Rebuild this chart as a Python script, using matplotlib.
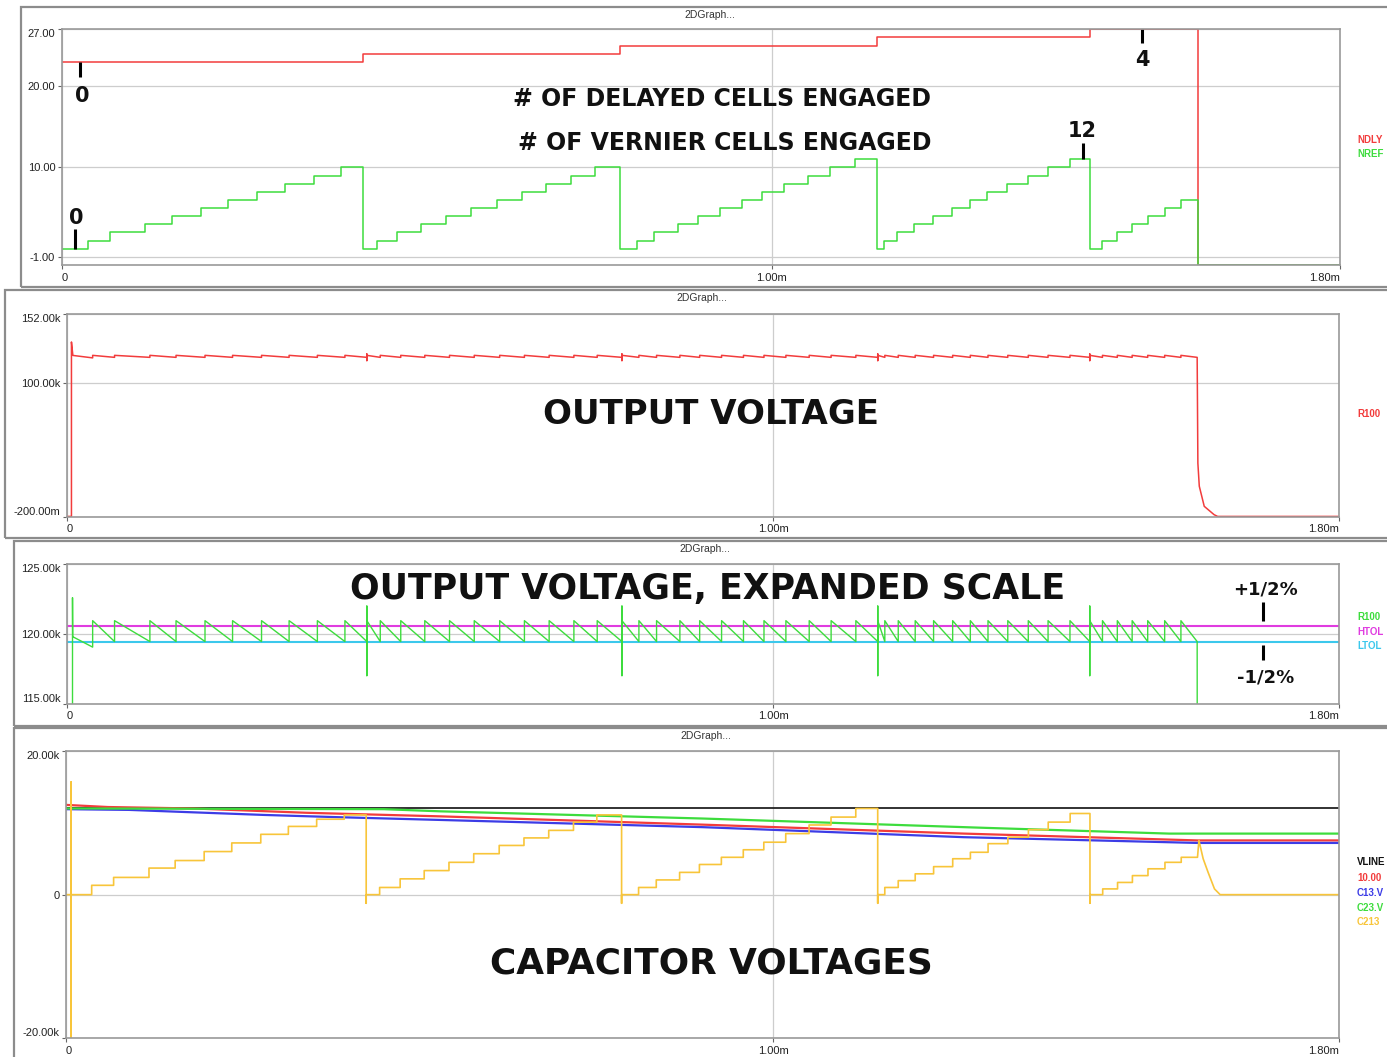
import matplotlib
matplotlib.use('Agg')
import matplotlib.pyplot as plt
from matplotlib.patches import Rectangle

plt.rcParams['font.family'] = ['Liberation Sans', 'DejaVu Sans']

W, H = 1387, 1057

# --- data (time in ms, voltages in kV) ---

# delay cells engaged
ndly_t = [0.0, 0.425, 0.786, 1.148, 1.448, 1.600, 1.800]
ndly_n = [23, 24, 25, 26, 27, -2, -2]

# vernier cells engaged, five ramps
vern_t = [0.000, 0.037, 0.068, 0.118, 0.155, 0.196, 0.235, 0.276, 0.315, 0.355, 0.394,
          0.425, 0.444, 0.473, 0.507, 0.542, 0.577, 0.613, 0.648, 0.683, 0.718, 0.751,
          0.786, 0.810, 0.835, 0.868, 0.896, 0.927, 0.958, 0.987, 1.018, 1.051, 1.082, 1.117,
          1.148, 1.158, 1.177, 1.201, 1.227, 1.254, 1.279, 1.304, 1.332, 1.361, 1.389, 1.420,
          1.448, 1.466, 1.487, 1.508, 1.530, 1.554, 1.577]
vern_n = [0, 1, 2, 3, 4, 5, 6, 7, 8, 9, 10,
          0, 1, 2, 3, 4, 5, 6, 7, 8, 9, 10,
          0, 1, 2, 3, 4, 5, 6, 7, 8, 9, 10, 11,
          0, 1, 2, 3, 4, 5, 6, 7, 8, 9, 10, 11,
          0, 1, 2, 3, 4, 5, 6]
vern_end = 1.600

# C213 voltage at each vernier step
c213_kv = [0, 1.3, 2.4, 3.7, 4.75, 6.0, 7.2, 8.4, 9.5, 10.5, 11.1,
           0, 1.0, 2.2, 3.35, 4.5, 5.7, 6.85, 7.9, 8.95, 10.1, 11.1,
           0, 1.0, 2.05, 3.1, 4.2, 5.2, 6.25, 7.3, 8.5, 9.7, 10.8, 12.0,
           0, 1.0, 1.95, 2.9, 3.9, 5.0, 5.9, 7.1, 8.0, 9.05, 10.1, 11.3,
           0, 0.8, 1.7, 2.65, 3.6, 4.5, 5.2]
c213_dip_kv = -1.2
c213_start_t = [0.0, 0.008, 0.008, 0.008, 0.008]
c213_start_kv = [0.0, 0.0, 15.7, -20.5, 0.0]
c213_tail_t = [1.602, 1.608, 1.615, 1.624, 1.632, 1.800]
c213_tail_kv = [7.55, 5.0, 3.1, 0.8, 0.0, 0.0]

# other capacitor / reference voltages
vline_kv = 12.0
ref_t = [0, 0.06, 0.18, 0.34, 0.53, 0.90, 1.27, 1.60, 1.80]
ref_kv = [12.5, 12.2, 12.0, 11.4, 10.9, 9.75, 8.5, 7.55, 7.55]
c13_t = [0, 0.09, 0.17, 0.28, 0.38, 0.53, 0.90, 1.27, 1.60, 1.80]
c13_kv = [11.9, 11.8, 11.5, 11.1, 10.8, 10.4, 9.4, 8.0, 7.2, 7.2]
c23_t = [0, 0.45, 0.53, 0.90, 1.30, 1.56, 1.80]
c23_kv = [12.0, 11.9, 11.6, 10.6, 9.3, 8.5, 8.5]

# output voltage R100
r100_peak = 120.95
r100_trough = 119.45
r100_first_trough = 119.05
r100_switch_hi = 122.0
r100_switch_lo = 117.0
vout_start_t = [0.0, 0.007, 0.007, 0.009]
vout_start_kv = [0.0, 0.0, 131.0, 120.9]
r100_start_t = [0.0, 0.0085, 0.0085, 0.0088]
r100_start_kv = [0.0, 0.0, 122.6, 119.8]
vout_tail_t = [1.601, 1.603, 1.610, 1.624, 1.629, 1.800]
vout_tail_kv = [40.0, 22.7, 7.6, 1.3, 0.0, 0.0]

htol_kv = 120.6
ltol_kv = 119.4


def r100_trace(start_t, start_kv):
    ts, vs = list(start_t), list(start_kv)
    events = vern_t[1:] + [vern_end]
    for i, te in enumerate(events):
        ts.append(te)
        vs.append(r100_first_trough if i == 0 else r100_trough)
        if te == vern_end:
            break
        if vern_n[i + 1] == 0:
            ts += [te, te, te]
            vs += [r100_switch_hi, r100_switch_lo, r100_peak]
        else:
            ts.append(te)
            vs.append(r100_peak)
    return ts + vout_tail_t, vs + vout_tail_kv


def c213_trace():
    ts, vs = list(c213_start_t), list(c213_start_kv)
    for i in range(1, len(vern_t)):
        t = vern_t[i]
        ts.append(t)
        vs.append(c213_kv[i - 1])
        if vern_n[i] == 0:
            ts += [t, t]
            vs += [c213_dip_kv, c213_kv[i]]
        else:
            ts.append(t)
            vs.append(c213_kv[i])
    ts.append(vern_end)
    vs.append(c213_kv[-1])
    return ts + c213_tail_t, vs + c213_tail_kv


def fpx(x, y):
    return x / W, 1 - y / H


def panel(x0, x1, y0, y1):
    return fig.add_axes([x0 / W, 1 - y1 / H, (x1 - x0) / W, (y1 - y0) / H])


def frame(x0, x1, y0, y1):
    fig.add_artist(Rectangle((x0 / W, 1 - y1 / H), (x1 - x0) / W, (y1 - y0) / H,
                             transform=fig.transFigure, fill=False,
                             ec='#8c8c8c', lw=1.6))


def style(ax, ylim, yticks, ylabels):
    ax.set_xlim(0, 1.8)
    ax.set_ylim(ylim)
    ax.set_xticks([0, 1.0, 1.8])
    ax.set_xticklabels(['0', '1.00m', '1.80m'])
    ax.set_yticks(yticks)
    ax.set_yticklabels(ylabels)
    for s in ax.spines.values():
        s.set_color('#9a9a9a')
        s.set_linewidth(1.2)
    ax.tick_params(length=3, width=0.8, color='#666666', labelsize=8,
                   pad=1.5, labelcolor='#222222')
    ax.tick_params(axis='x', pad=2.5)
    ax.grid(True, color='#cdcdcd', lw=0.9)
    ax.set_axisbelow(True)
    xl = ax.get_xticklabels()
    xl[0].set_ha('left')
    xl[-1].set_ha('right')
    yl = ax.get_yticklabels()
    if yticks[-1] >= ylim[1]:
        yl[-1].set_va('top')
    if yticks[0] <= ylim[0]:
        yl[0].set_va('bottom')


def legend_text(x, y, s, c):
    fig.text(*fpx(x, y), s, color=c, fontsize=7, fontweight='bold',
             ha='left', va='center')


def big_text(x, y, s, size):
    fig.text(*fpx(x, y), s, fontsize=size, fontweight='bold',
             family='DejaVu Sans', ha='center', va='baseline', color='#111111')


RED = '#f23c3c'
GREEN = '#3ddc3d'
MAG = '#e03ce0'
CYAN = '#3cc8ec'
BLUE = '#3c3ce6'
YEL = '#f8c53a'

fig = plt.figure(figsize=(W / 100, H / 100), dpi=100)
fig.patch.set_facecolor('white')

frame(20.5, 1400, 6.5, 287)
frame(5, 1400, 290, 538)
frame(13.5, 1400, 541, 725.5)
frame(14, 1400, 727.5, 1065)

for x, y in [(710, 15.5), (702, 298), (705, 549.5), (706, 736)]:
    fig.text(*fpx(x, y), '2DGraph...', fontsize=7.5, color='#333333',
             ha='center', va='center')

# panel 1: cells engaged
ax1 = panel(61.5, 1339.5, 29.3, 265)
style(ax1, (-2, 27), [-1, 10, 20, 27], ['-1.00', '10.00', '20.00', '27.00'])
ax1.step(ndly_t, ndly_n, where='post', color=RED, lw=1.1)
ax1.step(vern_t + [vern_end, 1.8], vern_n + [-2, -2], where='post', color=GREEN, lw=1.1)

mark = dict(color='black', lw=2.2, solid_capstyle='butt')
num = dict(fontsize=15, fontweight='bold', family='DejaVu Sans', ha='center',
           va='baseline', color='#111111')
ax1.plot([0.026, 0.026], [23, 21.1], **mark)
ax1.text(0.029, 18.1, '0', **num)
ax1.plot([0.019, 0.019], [0, 2.4], **mark)
ax1.text(0.021, 3.05, '0', **num)
ax1.plot([1.522, 1.522], [27, 25.3], **mark)
ax1.text(1.523, 22.5, '4', **num)
ax1.plot([1.439, 1.439], [11, 13.0], **mark)
ax1.text(1.437, 13.7, '12', **num)

big_text(722, 106.5, '# OF DELAYED CELLS ENGAGED', 17)
big_text(725, 150.5, '# OF VERNIER CELLS ENGAGED', 17)
legend_text(1357, 140, 'NDLY', RED)
legend_text(1357, 154, 'NREF', GREEN)

# panel 2: output voltage
ax2 = panel(66.5, 1338.5, 314, 516.7)
style(ax2, (-0.2, 152), [-0.2, 100, 152], ['-200.00m', '100.00k', '152.00k'])
t2, v2 = r100_trace(vout_start_t, vout_start_kv)
ax2.plot(t2, v2, color=RED, lw=1.1)
big_text(711, 424.5, 'OUTPUT VOLTAGE', 24.5)
legend_text(1357, 414, 'R100', RED)

# panel 3: output voltage, expanded
ax3 = panel(66.5, 1338.5, 564.3, 703.5)
style(ax3, (115, 125), [115, 120, 125], ['115.00k', '120.00k', '125.00k'])
ax3.axhline(htol_kv, color=MAG, lw=1.5)
ax3.axhline(ltol_kv, color=CYAN, lw=1.5)
t3, v3 = r100_trace(r100_start_t, r100_start_kv)
ax3.plot(t3, v3, color=GREEN, lw=1.0)
ax3.plot([1.693, 1.693], [htol_kv + 0.3, htol_kv + 1.7], **mark)
ax3.text(1.697, 122.8, '+1/2%', **dict(num, fontsize=13))
ax3.plot([1.693, 1.693], [ltol_kv - 0.2, ltol_kv - 1.3], **mark)
ax3.text(1.697, 116.5, '-1/2%', **dict(num, fontsize=13))
big_text(708, 599, 'OUTPUT VOLTAGE, EXPANDED SCALE', 25)
legend_text(1357, 617, 'R100', GREEN)
legend_text(1357, 632, 'HTOL', MAG)
legend_text(1357, 646, 'LTOL', CYAN)

# panel 4: capacitor voltages
ax4 = panel(65.5, 1339, 751, 1038.3)
style(ax4, (-20, 20), [-20, 0, 20], ['-20.00k', '0', '20.00k'])
ax4.axhline(vline_kv, color='#222222', lw=1.3)
ax4.plot(ref_t, ref_kv, color=RED, lw=1.6)
ax4.plot(c13_t, c13_kv, color=BLUE, lw=1.6)
ax4.plot(c23_t, c23_kv, color=GREEN, lw=1.6)
t4, v4 = c213_trace()
ax4.plot(t4, v4, color=YEL, lw=1.2)
big_text(711, 974, 'CAPACITOR VOLTAGES', 25.8)
legend_text(1357, 862, 'VLINE', '#111111')
legend_text(1357, 878, '10.00', RED)
legend_text(1357, 893, 'C13.V', BLUE)
legend_text(1357, 908, 'C23.V', GREEN)
legend_text(1357, 922, 'C213', YEL)

fig.savefig('out.png', dpi=100)
